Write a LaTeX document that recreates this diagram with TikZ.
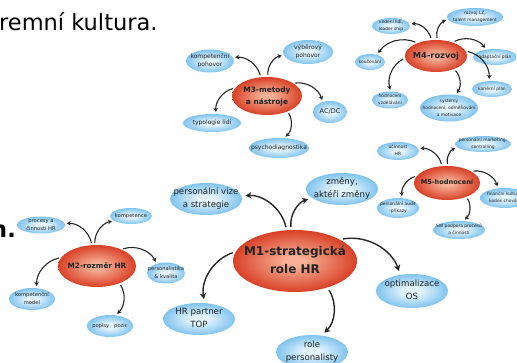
\documentclass[tikz,border=0pt]{standalone}
\usepackage{fontspec}
\setmainfont{DejaVu Sans}
\usetikzlibrary{shapes.geometric,arrows.meta}
\definecolor{redin}{RGB}{247,176,150}
\definecolor{redout}{RGB}{216,64,38}
\definecolor{bluein}{RGB}{228,244,253}
\definecolor{blueout}{RGB}{128,195,238}
\definecolor{txt}{RGB}{35,35,35}
\pgfdeclareradialshading{redball}{\pgfpoint{0bp}{0bp}}{color(0bp)=(redin); color(4bp)=(redin); color(25bp)=(redout); color(50bp)=(redout)}
\pgfdeclareradialshading{blueball}{\pgfpoint{0bp}{0bp}}{color(0bp)=(bluein); color(6bp)=(bluein); color(25bp)=(blueout); color(50bp)=(blueout)}
\newcommand{\ctr}[1]{\smash{\makebox[0pt]{\raisebox{-0.25em}{\begin{tabular}{@{}c@{}}#1\end{tabular}}}}}
\tikzset{
  hub/.style={ellipse, shading=redball, inner sep=0pt, text=txt},
  leaf/.style={ellipse, shading=blueball, inner sep=0pt, text=txt},
  sz/.style 2 args={minimum width=#1pt, minimum height=#2pt},
  fa/.style={font=\fontsize{8.6}{13}\selectfont},
  fb/.style={font=\fontsize{5.2}{8}\selectfont},
  fc/.style={font=\fontsize{6}{8.5}\selectfont},
  fd/.style={font=\fontsize{4.4}{7}\selectfont},
  arr/.style={-{Stealth[length=4pt,width=4.5pt]}, line width=1.1pt, shorten <=2pt, shorten >=2pt, black!85, bend angle=40},
  bigarr/.style={arr, -{Stealth[length=6pt,width=6.5pt]}, line width=1.4pt, shorten <=3pt, shorten >=4pt},
  plain/.style={inner sep=0pt, text=black}
}
\begin{document}
\begin{tikzpicture}[x=1pt,y=-1pt]
\useasboundingbox (0,0) rectangle (517,363);
\clip (0,0) rectangle (517,363);
\node[plain, anchor=base west, font=\fontsize{22.5}{27}\selectfont] (kult) at (-1,31) {remní kultura.};
\node[plain, anchor=base east, font=\fontsize{22.5}{27}\selectfont\bfseries] (nn) at (16,238) {n.};

% hubs
\node[hub, sz={124}{62}, font=\fontsize{12}{18.5}\selectfont\bfseries] (m1) at (295,261) {\ctr{M1-strategická\\role HR}};
\node[hub, sz={78}{42}, font=\fontsize{7.3}{10}\selectfont\bfseries] (m2) at (97,266) {\ctr{M2-rozměr HR}};
\node[hub, sz={70}{38}, font=\fontsize{7.4}{11.5}\selectfont\bfseries] (m3) at (267,96) {\ctr{M3-metody\\a nástroje}};
\node[hub, sz={62}{32}, font=\fontsize{8.3}{10}\selectfont\bfseries] (m4) at (436,56) {\ctr{M4-rozvoj}};
\node[hub, sz={66}{34}, font=\fontsize{6.6}{9}\selectfont\bfseries] (m5) at (447,183) {\ctr{M5-hodnocení}};

% M1 leaves
\node[leaf, sz={72}{32}, fa] (vize) at (206,199) {\ctr{personální vize\\a strategie}};
\node[leaf, sz={72}{32}, fa] (zmeny) at (342,189) {\ctr{změny,\\aktéři změny}};
\node[leaf, sz={72}{34}, fa] (optim) at (412,291) {\ctr{optimalizace\\OS}};
\node[leaf, sz={72}{32}, fa] (hrp) at (199,319) {\ctr{HR partner\\TOP}};
\node[leaf, sz={72}{34}, fa] (role) at (312,352) {\ctr{role\\personalisty}};

% M2 leaves
\node[leaf, sz={48}{17}, fb] (proc) at (41,225) {\ctr{procesy a\\činnosti HR}};
\node[leaf, sz={42}{16}, fb] (komp) at (131,216) {\ctr{kompetence}};
\node[leaf, sz={38}{21}, fb] (pers) at (166,273) {\ctr{personalistika\\\& kvalita}};
\node[leaf, sz={46}{22}, fb] (kmodel) at (32,299) {\ctr{kompetenční\\model}};
\node[leaf, sz={46}{22}, fb] (popisy) at (110,326) {\ctr{popisy~~~pozic}};

% M3 leaves
\node[leaf, sz={48}{23}, fc] (kpoh) at (210,61) {\ctr{kompetenční\\pohovor}};
\node[leaf, sz={50}{24}, fc] (vyb) at (308,52) {\ctr{výběrový\\pohovor}};
\node[leaf, sz={34}{22}, font=\fontsize{6.5}{8}\selectfont] (acdc) at (330,112) {\ctr{AC/DC}};
\node[leaf, sz={58}{18}, fc] (typ) at (212,123) {\ctr{typologie lidí}};
\node[leaf, sz={60}{20}, fc] (psy) at (279,148) {\ctr{psychodiagnostika}};

% M4 leaves
\node[leaf, sz={38}{16}, fd] (ved) at (391,26) {\ctr{vedení lidí,\\leader ship}};
\node[leaf, sz={56}{18}, fd] (rlz) at (475,17) {\ctr{rozvoj LZ,\\talent management}};
\node[leaf, sz={44}{16}, fd] (adapt) at (495,57) {\ctr{adaptační plán}};
\node[leaf, sz={30}{16}, fd] (kouc) at (370,62) {\ctr{koučování}};
\node[leaf, sz={36}{17}, fd] (hvzd) at (390,100) {\ctr{hodnocení\\vzdělávání}};
\node[leaf, sz={58}{27}, fd] (sys) at (449,108) {\ctr{systémy\\hodnocení, odměňování\\a motivace}};
\node[leaf, sz={40}{16}, fd] (kar) at (492,89) {\ctr{kariérní plán}};

% M5 leaves
\node[leaf, sz={42}{18}, fd] (uci) at (398,151) {\ctr{účinnost\\HR}};
\node[leaf, sz={56}{16}, fd] (mkt) at (483,144) {\ctr{personální marketing,\\controlling}};
\node[leaf, sz={50}{20}, fd] (fin) at (505,198) {\ctr{finanční kultura,\\kodex chování}};
\node[leaf, sz={42}{20}, fd] (aud) at (398,208) {\ctr{personální audit\\-příkazy}};
\node[leaf, sz={52}{18}, fd] (sw) at (459,230) {\ctr{SW podpora procesů\\a činností}};

% arrows M1
\draw[bigarr] (m1) to[bend right] (vize);
\draw[bigarr] (m1) to[bend left] (zmeny);
\draw[bigarr] (m1) to[bend left] (optim);
\draw[bigarr] (m1) to[bend left] (role);
\draw[bigarr] (m1) to[bend right] (hrp);
% arrows M2
\draw[arr] (m2) to[bend right] (proc);
\draw[arr] (m2) to[bend left] (komp);
\draw[arr] (m2) to[bend left] (pers);
\draw[arr] (m2) to[bend right] (kmodel);
\draw[arr] (m2) to[bend left] (popisy);
% arrows M3
\draw[arr] (m3) to[bend right] (kpoh);
\draw[arr] (m3) to[bend left] (vyb);
\draw[arr] (m3) to[bend left] (acdc);
\draw[arr] (m3) to[bend right] (typ);
\draw[arr] (m3) to[bend left] (psy);
% arrows M4
\draw[arr] (m4) to[bend right] (ved);
\draw[arr] (m4) to[bend left] (rlz);
\draw[arr] (m4) to[bend left] (adapt);
\draw[arr] (m4) to[bend right] (kouc);
\draw[arr] (m4) to[bend right] (hvzd);
\draw[arr] (m4) to[bend left] (sys);
\draw[arr] (m4) to[bend left] (kar);
% arrows M5
\draw[arr] (m5) to[bend right] (uci);
\draw[arr] (m5) to[bend left] (mkt);
\draw[arr] (m5) to[bend left] (fin);
\draw[arr] (m5) to[bend right] (aud);
\draw[arr] (m5) to[bend left] (sw);
\end{tikzpicture}
\end{document}
